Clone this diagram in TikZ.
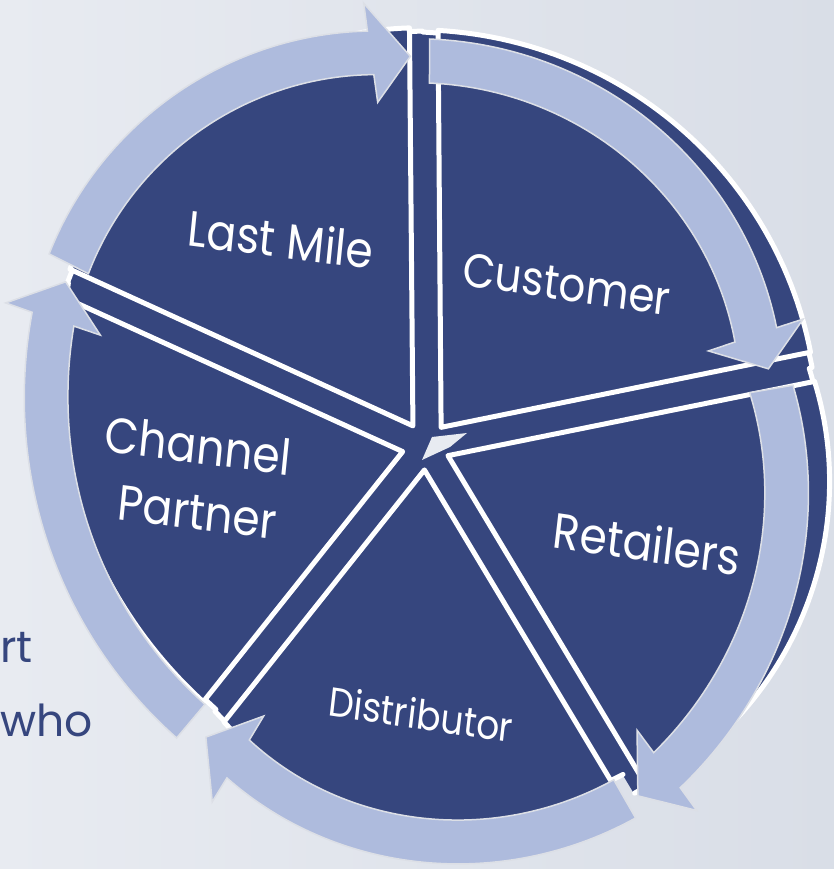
\documentclass[tikz,border=0pt]{standalone}
\usepackage{fontspec}
\newfontfamily\pop{Poppins}
\definecolor{pieblue}{HTML}{36467E}
\definecolor{arrowblue}{HTML}{AEBBDD}
\definecolor{bgA}{HTML}{E8EBF1}
\definecolor{bgB}{HTML}{D9DEE7}
\definecolor{rimgray}{HTML}{DCDFE6}
\def\AW{22}
\def\AH{50}
\newcommand\piewedge[7]{%
  \pgfmathsetmacro\WM{((#2)+(#3))/2}%
  \begin{scope}[shift={(\WM:#7)}]
    \path[#1, declare function={wr(\s)=(#4)+((#6)-(#4))*\s+4*((#5)-((#4)+(#6))/2)*\s*(1-\s);}]
      (0,0) -- plot[domain=0:1, samples=60, variable=\t] ({(#2)+((#3)-(#2))*\t}:{wr(\t)}) -- cycle;
  \end{scope}}
\newcommand\pierim[6]{%
  \path[#1, declare function={wr(\s)=(#4)+((#6)-(#4))*\s+4*((#5)-((#4)+(#6))/2)*\s*(1-\s);}]
    plot[domain=0:1, samples=60, variable=\t] ({(#2)+((#3)-(#2))*\t}:{wr(\t)});}
\newcommand\cyclearrow[7]{%
  \path[arrowband, declare function={ar(\s)=(#3)+((#5)-(#3))*\s+4*((#4)-((#3)+(#5))/2)*\s*(1-\s);}]
    plot[domain=0:1, samples=60, variable=\t] ({(#1)+((#2)-(#1))*\t}:{ar(\t)+\AW})
    -- ({#2}:{(#5)+\AH}) -- ({#6}:{#7}) -- ({#2}:{(#5)-\AH})
    -- plot[domain=1:0, samples=60, variable=\t] ({(#1)+((#2)-(#1))*\t}:{ar(\t)-\AW})
    -- cycle;}
\tikzset{
  wedgebase/.style={fill=pieblue, draw=pieblue, line width=1.5pt, line join=round},
  rimline/.style={draw=white, line width=5pt, line cap=round},
  wedgetop/.style={fill=pieblue, draw=white, line width=5pt, line join=round},
  arrowband/.style={fill=arrowblue, draw=rimgray, line width=1.5pt, line join=miter},
  pielabel/.style={text=white, font=\pop\fontsize{44}{58}\selectfont, align=center, inner sep=0pt, yscale=1.13},
  bgtext/.style={text=pieblue, font=\pop\fontsize{44}{50}\selectfont, inner sep=0pt},
}
\begin{document}
\begin{tikzpicture}[x=1pt,y=1pt]
\useasboundingbox (0,0) rectangle (834,869);
\shade[left color=bgA, right color=bgB] (0,0) rectangle (834,869);
\node[bgtext, anchor=base west] (t1) at (0,206) {rt};
\node[bgtext, anchor=base west] (t2) at (0,132) {who};
\begin{scope}[shift={(426,423)}]
  % lower layer (visible in the gaps)
  \piewedge{wedgebase}{11.5}{90.5}{394}{400}{414}{0}
  \piewedge{wedgebase}{90.5}{155.5}{415}{407}{394}{0}
  \piewedge{wedgebase}{155.5}{231.5}{393}{344}{337}{0}
  \piewedge{wedgebase}{231.5}{301}{339}{366}{383}{0}
  \piewedge{wedgebase}{-59}{11.5}{405}{406}{391}{0}
  \pierim{rimline}{11.5}{90.5}{394}{400}{414}
  \pierim{rimline}{90.5}{155.5}{415}{407}{394}
  \pierim{rimline}{155.5}{231.5}{393}{344}{337}
  \pierim{rimline}{231.5}{301}{339}{366}{383}
  \pierim{rimline}{-59}{11.5}{405}{406}{391}
  % small light patch at the hub
  \fill[bgA] (6,9) -- (41,13) -- (24,-1) -- (-4,-14) -- cycle;
  % exploded segments
  \piewedge{wedgetop}{11.5}{90.5}{377}{383}{397}{24}
  \piewedge{wedgetop}{90.5}{155.5}{398}{390}{377}{24}
  \piewedge{wedgetop}{155.5}{231.5}{376}{327}{320}{24}
  \piewedge{wedgetop}{231.5}{301}{322}{349}{366}{24}
  \piewedge{wedgetop}{-59}{11.5}{388}{389}{374}{24}
  % cycle arrows
  \cyclearrow{153}{98}{401}{410}{397}{92.3}{390}
  \cyclearrow{89.5}{18.6}{385}{372}{348}{12.7}{351}
  \cyclearrow{9.4}{-53.4}{350}{376}{404}{-58.8}{409}
  \cyclearrow{-60.6}{-121}{405}{394}{365}{-127.1}{365}
  \cyclearrow{229.5}{161.2}{362}{368}{394}{155.5}{396}
\end{scope}
\node[pielabel, rotate=-6.5] (lm) at (281,630) {Last Mile};
\node[pielabel, rotate=-7.5, font=\pop\fontsize{42}{50}\selectfont] (cu) at (567,585) {Customer};
\node[pielabel, rotate=-6.5] (cp) at (195,391) {Channel\\\hspace*{12pt}Partner};
\node[pielabel, rotate=-7.5] (re) at (647,326) {Retailers};
\node[pielabel, rotate=-7.5, font=\pop\fontsize{36}{44}\selectfont] (di) at (421,155) {Distributor};
\end{tikzpicture}
\end{document}
